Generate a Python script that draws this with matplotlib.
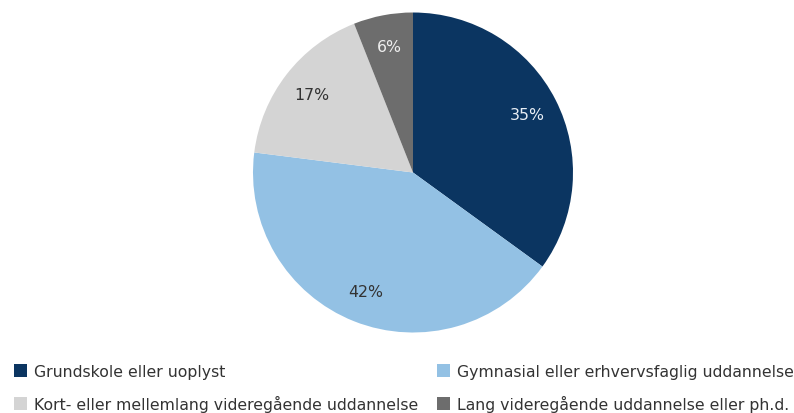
import matplotlib
matplotlib.use("Agg")
import matplotlib.pyplot as plt
from matplotlib.patches import Patch

categories = ["Grundskole eller uoplyst",
              "Gymnasial eller erhvervsfaglig uddannelse",
              "Kort- eller mellemlang videregående uddannelse",
              "Lang videregående uddannelse eller ph.d."]
values = [35, 42, 17, 6]
colors = ["#0B3561", "#93C1E4", "#D4D4D4", "#6D6D6D"]
label_colors = ["#E8EEF5", "#333333", "#333333", "#EEEEEE"]

plt.rcParams['font.family'] = ['DejaVu Sans']
W, H = 794, 414
fig = plt.figure(figsize=(W/100, H/100), dpi=100)
cx, cy, r = 413, 173.5, 160
ax = fig.add_axes([(cx - r)/W, (H - cy - r)/H, 2*r/W, 2*r/H])
wedges, texts, autotexts = ax.pie(values, colors=colors, startangle=90, counterclock=False,
                                  autopct=lambda p: f"{p:.0f}%", pctdistance=0.8,
                                  wedgeprops=dict(linewidth=0),
                                  textprops=dict(fontsize=11.3))
for t, c in zip(autotexts, label_colors):
    t.set_color(c)
ax.set_xlim(-1, 1); ax.set_ylim(-1, 1)
ax.set_aspect('equal')
ax.axis('off')

handles = [Patch(facecolor=c, edgecolor='none') for c in colors]
common = dict(frameon=False, fontsize=11.3, handlelength=0.85, handleheight=0.85,
              handletextpad=0.4, borderpad=0, borderaxespad=0, labelspacing=1.0,
              loc='upper left', labelcolor='#333333')
fig.legend([handles[0], handles[2]], [categories[0], categories[2]],
           bbox_to_anchor=(14/W, 1 - 365/H), **common)
fig.legend([handles[1], handles[3]], [categories[1], categories[3]],
           bbox_to_anchor=(437/W, 1 - 365/H), **common)
fig.savefig("out.png", dpi=100)
